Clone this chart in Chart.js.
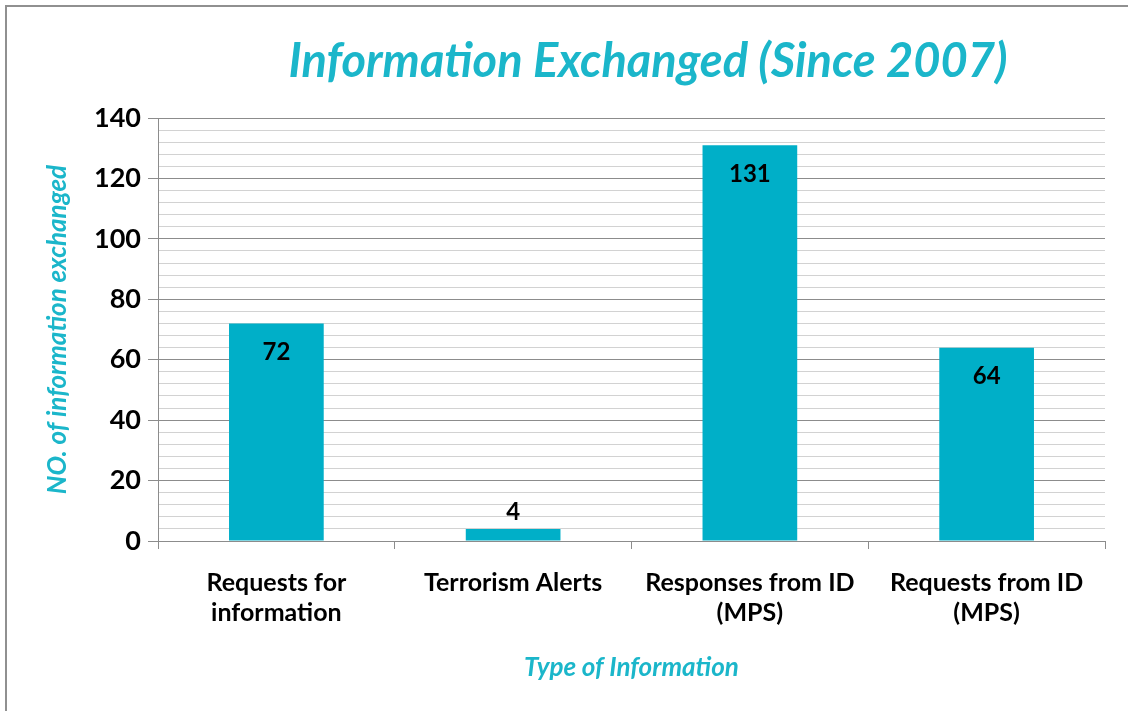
<!DOCTYPE html>
<html>
<head>
<meta charset="utf-8">
<script src="https://cdn.jsdelivr.net/npm/chart.js@4.4.1/dist/chart.umd.min.js"></script>
<style>
  html, body { margin: 0; padding: 0; background: #fff; overflow: hidden; }
  #wrap { position: relative; width: 1128px; height: 711px; }
  #frame { position: absolute; left: 5px; top: 5px; width: 1200px; height: 800px;
           border-top: 2px solid #909090; border-left: 2px solid #909090; pointer-events: none; }
</style>
</head>
<body>
<div id="wrap">
  <canvas id="infoChart" width="1128" height="711"></canvas>
  <div id="frame"></div>
</div>
<script>
// Datos del gráfico
const categories = [
  ['Requests for', 'information'],
  'Terrorism Alerts',
  ['Responses from ID', '(MPS)'],
  ['Requests from ID', '(MPS)']
];
const exchanged = [72, 4, 131, 64];
const yTickMax = 140;
const yMajorStep = 20;
const yMinorStep = 4;

const teal = '#1BB6CA';
const barColor = '#00AFC8';
const majorGrid = '#8c8c8c';
const minorGrid = '#d2d2d2';

// Título principal (centrado como en la imagen original)
const titlePlugin = {
  id: 'mainTitle',
  afterDraw(chart) {
    const c = chart.ctx;
    c.save();
    c.font = 'italic bold 47px Lato';
    c.fillStyle = teal;
    c.textAlign = 'center';
    c.textBaseline = 'middle';
    c.fillText('Information Exchanged (Since 2007)', 648, 62);
    c.restore();
  }
};

// Etiquetas de valor sobre / dentro de las barras
const valueLabels = {
  id: 'valueLabels',
  afterDatasetsDraw(chart) {
    const c = chart.ctx;
    const meta = chart.getDatasetMeta(0);
    c.save();
    c.font = 'bold 24px Lato';
    c.fillStyle = '#000';
    c.textAlign = 'center';
    c.textBaseline = 'middle';
    meta.data.forEach((bar, i) => {
      const v = exchanged[i];
      const y = v > 10 ? bar.y + 29 : bar.y - 17;
      c.fillText(v, bar.x, y);
    });
    c.restore();
  }
};

let ctx = document.getElementById('infoChart').getContext('2d');
let chart = new Chart(ctx, {
  type: 'bar',
  data: {
    labels: categories,
    datasets: [{
      data: exchanged,
      backgroundColor: barColor,
      barPercentage: 0.4,
      categoryPercentage: 1.0
    }]
  },
  options: {
    responsive: false,
    animation: false,
    layout: { padding: { top: 118, right: 23, left: 0, bottom: 0 } },
    plugins: {
      legend: { display: false },
      tooltip: { enabled: false },
      title: { display: false }
    },
    scales: {
      x: {
        afterFit(scale) { scale.height = 170; },
        grid: {
          offset: true,
          drawOnChartArea: false,
          drawTicks: true,
          tickLength: 8,
          tickColor: majorGrid
        },
        border: { color: majorGrid, width: 1 },
        ticks: {
          color: '#000',
          font: { family: 'Lato', weight: 'bold', size: 25, lineHeight: 1.2 },
          padding: 19,
          maxRotation: 0,
          autoSkip: false
        },
        title: {
          display: true,
          text: 'Type of Information',
          color: teal,
          font: { family: 'Lato', weight: 'bold', style: 'italic', size: 26 },
          padding: { top: 0, bottom: 28 }
        }
      },
      y: {
        min: 0,
        max: yTickMax,
        afterFit(scale) { scale.width = 158; },
        grid: {
          color: (c) => (c.tick && c.tick.value % yMajorStep === 0) ? majorGrid : minorGrid,
          tickColor: (c) => (c.tick && c.tick.value % yMajorStep === 0) ? majorGrid : 'rgba(0,0,0,0)',
          tickLength: 10,
          lineWidth: 1
        },
        border: { color: majorGrid, width: 1 },
        ticks: {
          stepSize: yMinorStep,
          autoSkip: false,
          color: '#000',
          font: { family: 'Lato', weight: 'bold', size: 27 },
          padding: 7,
          callback: (v) => (v % yMajorStep === 0 ? v : '')
        },
        title: {
          display: true,
          text: 'NO. of information exchanged',
          color: teal,
          font: { family: 'Lato', weight: 'bold', style: 'italic', size: 26 },
          padding: { top: 42, bottom: 0 }
        }
      }
    }
  },
  plugins: [titlePlugin, valueLabels]
});
</script>
</body>
</html>
